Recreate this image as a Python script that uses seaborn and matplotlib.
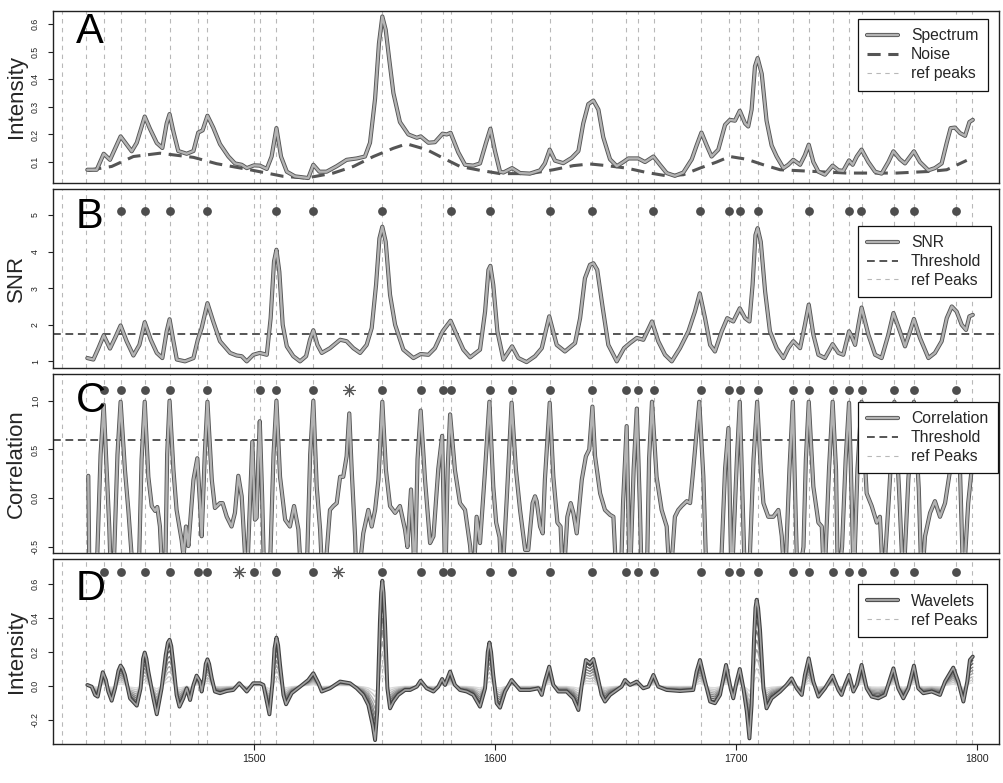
import matplotlib
matplotlib.use("Agg")
import matplotlib.pyplot as plt
import matplotlib.patheffects as pe
from matplotlib.lines import Line2D
import seaborn as sns

# ---------------- data ----------------
ref_peaks = [1420.7, 1430.4, 1437.9, 1444.9, 1454.9, 1465.3, 1477.1, 1480.8, 1500.2, 1502.6,
             1509.5, 1524.8, 1553.4, 1569.3, 1578.4, 1581.8, 1598.3, 1607.1, 1622.8, 1640.5,
             1654.4, 1659.4, 1666.0, 1685.7, 1697.3, 1701.6, 1709.0, 1723.8, 1730.2, 1740.1,
             1746.9, 1752.2, 1765.7, 1773.8, 1791.2, 1797.8]

# panel A: spectrum and noise
spec_mz = [1431.1, 1435.0, 1437.9, 1440.5, 1444.9, 1449.5, 1451.6, 1454.9, 1457.1, 1459.9,
           1462.2, 1464.0, 1465.2, 1466.8, 1468.8, 1472.3, 1475.1, 1477.1, 1478.9, 1480.9,
           1483.3, 1486.1, 1489.6, 1492.3, 1495.1, 1497.2, 1500.2, 1502.6, 1505.5, 1507.5,
           1509.5, 1511.4, 1513.8, 1517.2, 1522.7, 1524.8, 1527.3, 1530.3, 1534.5, 1538.6,
           1542.8, 1546.2, 1548.3, 1550.4, 1552.0, 1553.4, 1554.8, 1556.3, 1558.0, 1560.7,
           1564.2, 1567.7, 1569.3, 1572.5, 1575.2, 1578.4, 1580.1, 1581.7, 1584.9, 1587.7,
           1591.1, 1593.9, 1596.4, 1598.2, 1600.1, 1602.2, 1603.6, 1607.2, 1610.5, 1614.6,
           1618.8, 1620.8, 1622.8, 1625.0, 1628.4, 1631.9, 1634.7, 1636.7, 1638.8, 1640.9,
           1643.0, 1645.0, 1647.8, 1650.6, 1653.3, 1655.4, 1659.5, 1662.3, 1665.8, 1668.5,
           1671.3, 1674.7, 1678.2, 1681.7, 1683.7, 1685.7, 1687.9, 1689.9, 1692.7, 1695.5,
           1697.5, 1699.6, 1701.6, 1703.8, 1705.1, 1706.5, 1707.9, 1709.0, 1710.7, 1712.7,
           1714.8, 1716.9, 1719.7, 1721.7, 1723.8, 1726.6, 1728.6, 1730.2, 1732.1, 1734.2,
           1736.9, 1740.1, 1742.5, 1744.5, 1746.9, 1748.4, 1750.1, 1752.1, 1754.9, 1757.7,
           1760.4, 1763.2, 1765.3, 1768.0, 1770.1, 1772.2, 1773.8, 1776.3, 1779.8, 1782.5,
           1785.3, 1787.4, 1789.0, 1790.8, 1792.9, 1795.0, 1796.8, 1798.2]
spec_int = [0.072, 0.072, 0.130, 0.108, 0.193, 0.139, 0.17, 0.265, 0.22, 0.169,
            0.151, 0.24, 0.274, 0.21, 0.14, 0.13, 0.14, 0.207, 0.215, 0.268,
            0.225, 0.165, 0.12, 0.095, 0.09, 0.078, 0.088, 0.087, 0.075, 0.12,
            0.223, 0.12, 0.065, 0.048, 0.042, 0.09, 0.065, 0.065, 0.085, 0.108,
            0.113, 0.12, 0.17, 0.33, 0.53, 0.628, 0.58, 0.47, 0.35, 0.245,
            0.2, 0.188, 0.193, 0.17, 0.172, 0.203, 0.2, 0.206, 0.135, 0.09,
            0.087, 0.095, 0.17, 0.221, 0.14, 0.065, 0.062, 0.078, 0.06, 0.058,
            0.07, 0.095, 0.145, 0.105, 0.096, 0.115, 0.14, 0.24, 0.31, 0.323,
            0.29, 0.19, 0.11, 0.085, 0.1, 0.113, 0.113, 0.1, 0.12, 0.09,
            0.06, 0.05, 0.062, 0.11, 0.16, 0.207, 0.16, 0.12, 0.145, 0.235,
            0.253, 0.25, 0.286, 0.24, 0.229, 0.29, 0.447, 0.477, 0.42, 0.25,
            0.16, 0.12, 0.078, 0.09, 0.108, 0.09, 0.125, 0.163, 0.1, 0.065,
            0.054, 0.087, 0.07, 0.068, 0.106, 0.09, 0.12, 0.145, 0.1, 0.065,
            0.058, 0.1, 0.139, 0.11, 0.095, 0.12, 0.139, 0.1, 0.07, 0.078,
            0.095, 0.17, 0.223, 0.225, 0.205, 0.195, 0.245, 0.253]
noise_mz = [1431.5, 1441.2, 1450.2, 1461.2, 1475.1, 1484.7, 1498.5, 1512.4, 1522.0, 1533.1,
            1541.4, 1549.7, 1558.0, 1563.5, 1571.8, 1578.7, 1585.6, 1593.9, 1602.2, 1614.6,
            1624.3, 1632.6, 1639.5, 1646.4, 1654.7, 1663.0, 1671.3, 1678.2, 1685.1, 1692.0,
            1697.5, 1704.5, 1711.4, 1718.3, 1732.1, 1745.9, 1766.6, 1780.5, 1787.4, 1795.7]
noise_int = [0.07, 0.084, 0.12, 0.132, 0.117, 0.094, 0.072, 0.048, 0.042, 0.06,
             0.084, 0.12, 0.15, 0.166, 0.145, 0.114, 0.084, 0.07, 0.058, 0.058,
             0.072, 0.087, 0.093, 0.087, 0.078, 0.062, 0.05, 0.054, 0.078, 0.1,
             0.12, 0.11, 0.09, 0.072, 0.066, 0.06, 0.06, 0.066, 0.072, 0.106]

# panel B: signal to noise ratio
snr_mz = [1431.1, 1433.6, 1435.7, 1437.9, 1440.5, 1442.6, 1444.9, 1447.4, 1450.2, 1452.7,
          1454.9, 1457.4, 1459.9, 1462.2, 1464.0, 1465.2, 1466.8, 1468.2, 1471.6, 1475.1,
          1476.9, 1478.5, 1480.9, 1483.3, 1486.1, 1490.3, 1493.0, 1495.1, 1497.2, 1499.9,
          1502.6, 1505.5, 1507.1, 1508.5, 1509.5, 1510.7, 1512.1, 1513.8, 1516.5, 1519.3,
          1521.8, 1523.4, 1524.8, 1526.5, 1528.3, 1531.7, 1535.9, 1538.6, 1541.4, 1544.2,
          1546.9, 1549.0, 1550.8, 1552.2, 1553.4, 1554.8, 1556.6, 1558.7, 1562.1, 1566.3,
          1569.3, 1572.5, 1575.2, 1578.4, 1581.7, 1584.2, 1587.0, 1589.8, 1593.9, 1596.0,
          1597.4, 1598.2, 1599.4, 1601.1, 1603.6, 1607.2, 1609.8, 1613.2, 1616.7, 1619.5,
          1622.6, 1625.7, 1629.1, 1633.3, 1635.4, 1637.4, 1639.5, 1640.9, 1642.5, 1644.8,
          1647.1, 1650.6, 1653.6, 1656.1, 1658.9, 1661.6, 1665.2, 1667.8, 1670.6, 1673.4,
          1676.8, 1680.3, 1683.0, 1685.0, 1687.2, 1689.3, 1691.3, 1694.1, 1696.4, 1698.9,
          1701.6, 1703.8, 1705.6, 1706.9, 1708.1, 1709.0, 1710.3, 1712.1, 1714.1, 1716.9,
          1719.7, 1721.7, 1723.8, 1726.6, 1728.6, 1730.2, 1732.1, 1734.2, 1736.9, 1740.1,
          1742.5, 1744.5, 1746.9, 1748.0, 1749.4, 1750.8, 1752.1, 1754.9, 1757.7, 1760.4,
          1763.2, 1765.3, 1768.0, 1770.1, 1772.2, 1773.8, 1776.3, 1779.8, 1782.5, 1785.3,
          1787.4, 1789.5, 1791.5, 1793.6, 1795.4, 1796.8, 1798.2]
snr_val = [1.09, 1.05, 1.36, 1.71, 1.35, 1.64, 1.98, 1.55, 1.16, 1.45,
           2.07, 1.59, 1.23, 1.09, 1.82, 2.15, 1.55, 1.05, 1.0, 1.09,
           1.59, 1.91, 2.59, 2.09, 1.55, 1.23, 1.16, 1.14, 1.0, 1.18,
           1.23, 1.18, 2.18, 3.73, 4.05, 3.45, 2.0, 1.41, 1.14, 1.0,
           1.14, 1.59, 1.85, 1.45, 1.23, 1.36, 1.59, 1.55, 1.36, 1.23,
           1.45, 1.91, 3.09, 4.36, 4.68, 4.27, 2.82, 2.0, 1.32, 1.09,
           1.2, 1.18, 1.36, 1.82, 2.11, 1.73, 1.32, 1.11, 1.32, 2.36,
           3.5, 3.61, 3.09, 1.82, 1.05, 1.41, 1.09, 0.98, 1.14, 1.36,
           2.23, 1.45, 1.27, 1.5, 2.18, 3.27, 3.64, 3.68, 3.5, 2.45,
           1.45, 1.0, 1.36, 1.5, 1.64, 1.59, 2.09, 1.55, 1.18, 1.0,
           1.36, 1.82, 2.36, 2.86, 2.18, 1.45, 1.27, 1.82, 2.18, 2.09,
           2.45, 2.18, 2.09, 3.09, 4.45, 4.64, 4.27, 2.91, 1.82, 1.36,
           1.09, 1.36, 1.55, 1.36, 2.0, 2.55, 1.73, 1.18, 1.09, 1.47,
           1.23, 1.18, 1.82, 1.68, 1.45, 2.0, 2.47, 1.73, 1.18, 1.09,
           1.73, 2.32, 1.82, 1.41, 1.82, 2.16, 1.64, 1.09, 1.23, 1.55,
           2.18, 2.5, 2.36, 2.0, 1.86, 2.23, 2.27]
snr_threshold = 1.75
snr_peaks = [1444.9, 1454.9, 1465.2, 1480.9, 1509.5, 1524.8, 1553.4, 1581.8, 1598.2, 1622.8,
             1640.5, 1665.5, 1685.3, 1697.0, 1701.6, 1709.0, 1730.2, 1746.9, 1752.0, 1765.7,
             1773.8, 1791.2]

# panel C: correlation (values below the frame are clipped)
corr_points = [
    (1431.5, 0.23), (1432.0, -0.9), (1434.8, -0.9), (1436.6, 0.45), (1437.9, 0.96),
    (1439.1, 0.29), (1440.2, -0.3), (1441.0, -0.9), (1441.8, -0.9), (1443.6, 0.45),
    (1444.9, 0.99), (1446.7, 0.29), (1448.1, -0.12), (1449.5, -0.6), (1450.5, -0.9),
    (1452.3, -0.9), (1453.6, 0.4), (1454.9, 0.99), (1456.4, 0.22), (1457.8, -0.08),
    (1459.2, -0.13), (1460.1, -0.09), (1461.2, -0.29), (1462.4, -0.9), (1463.3, -0.9),
    (1464.2, 0.45), (1465.2, 1.0), (1466.8, 0.29), (1468.1, -0.12), (1470.2, -0.43),
    (1471.0, -0.6), (1472.0, -0.29), (1473.0, -0.49), (1475.1, 0.19), (1476.7, 0.41),
    (1477.8, -0.05), (1478.5, -0.39), (1479.8, 0.45), (1480.9, 0.99), (1482.7, 0.19),
    (1484.0, -0.10), (1486.1, -0.05), (1487.2, -0.05), (1488.9, -0.19), (1490.9, -0.29),
    (1492.3, -0.15), (1493.7, 0.23), (1495.1, 0.02), (1496.5, -0.6), (1497.2, -0.9),
    (1498.3, -0.2), (1499.5, 0.58), (1500.6, -0.22), (1501.3, -0.2), (1502.0, 0.4),
    (1502.6, 0.79), (1503.6, 0.0), (1504.5, -0.9), (1506.6, -0.9), (1508.3, 0.45),
    (1509.5, 1.0), (1511.0, 0.22), (1513.1, -0.22), (1515.1, -0.29), (1516.8, -0.08),
    (1518.6, -0.32), (1520.0, -0.9), (1521.9, -0.9), (1523.5, 0.45), (1524.8, 1.0),
    (1526.2, 0.12), (1527.6, -0.32), (1528.7, -0.9), (1530.2, -0.6), (1531.7, -0.12),
    (1533.1, -0.08), (1534.5, -0.05), (1535.9, 0.22), (1537.2, 0.22), (1538.6, 0.43),
    (1539.7, 0.87), (1540.7, 0.29), (1542.1, -0.39), (1542.8, -0.9), (1544.5, -0.6),
    (1545.5, -0.36), (1547.6, -0.12), (1549.0, -0.29), (1550.4, -0.12), (1551.8, 0.19),
    (1553.4, 0.99), (1554.9, 0.29), (1556.6, -0.08), (1558.7, -0.15), (1560.7, -0.08),
    (1562.8, -0.32), (1563.8, -0.5), (1565.3, 0.09), (1566.3, -0.5), (1566.8, -0.9),
    (1568.0, 0.4), (1569.3, 0.9), (1571.1, 0.19), (1573.2, -0.46), (1574.6, -0.39),
    (1576.6, 0.3), (1578.2, 0.64), (1579.5, -0.9), (1580.5, 0.3), (1581.5, 0.86),
    (1583.5, 0.29), (1585.6, -0.05), (1587.7, -0.12), (1589.8, -0.49), (1591.1, -0.9),
    (1592.5, -0.19), (1593.9, -0.46), (1596.0, 0.29), (1597.8, 0.99), (1599.4, 0.12),
    (1600.6, -0.25), (1602.0, -0.4), (1603.0, -0.9), (1605.0, 0.0), (1606.0, 0.5),
    (1607.0, 0.98), (1608.8, 0.29), (1610.5, -0.12), (1612.6, -0.53), (1613.9, -0.53),
    (1615.7, -0.05), (1616.7, 0.02), (1617.4, -0.03), (1618.8, -0.29), (1619.9, -0.36),
    (1620.8, 0.19), (1622.8, 0.98), (1624.3, 0.22), (1626.0, -0.25), (1627.3, -0.29),
    (1628.4, -0.9), (1630.1, -0.19), (1631.5, -0.05), (1632.6, -0.15), (1634.0, -0.36),
    (1636.1, 0.19), (1637.8, 0.43), (1639.2, 0.5), (1640.5, 0.94), (1641.6, 0.43),
    (1643.7, 0.05), (1645.7, -0.12), (1647.8, -0.17), (1649.2, -0.19), (1650.6, -0.9),
    (1652.2, -0.9), (1653.2, -0.05), (1654.7, 0.74), (1656.0, -0.9), (1657.6, 0.3),
    (1658.9, 0.92), (1660.2, -0.1), (1661.0, -0.9), (1663.0, -0.9), (1664.0, 0.4),
    (1665.2, 0.99), (1667.1, 0.22), (1669.2, -0.12), (1671.3, -0.29), (1672.7, -0.9),
    (1674.7, -0.19), (1676.1, -0.12), (1677.5, -0.08), (1679.6, -0.03), (1681.0, -0.05),
    (1682.3, 0.29), (1684.8, 0.99), (1686.5, 0.22), (1687.9, -0.9), (1693.5, -0.9),
    (1695.5, 0.3), (1696.9, 0.72), (1698.2, -0.9), (1700.4, 0.4), (1701.6, 0.99),
    (1703.1, -0.3), (1703.8, -0.9), (1705.3, -0.9), (1707.3, 0.4), (1708.8, 0.99),
    (1710.3, 0.3), (1711.4, -0.05), (1713.4, -0.19), (1715.5, -0.19), (1717.6, -0.12),
    (1719.0, -0.39), (1720.3, -0.9), (1722.2, 0.3), (1723.6, 0.99), (1724.9, -0.3),
    (1725.6, -0.9), (1728.0, -0.5), (1729.0, 0.4), (1730.2, 0.99), (1732.1, 0.12),
    (1734.2, -0.25), (1735.6, -0.29), (1736.6, -0.9), (1738.6, 0.3), (1740.1, 0.99),
    (1741.5, 0.29), (1742.3, -0.9), (1744.0, -0.5), (1745.5, 0.4), (1746.9, 0.98),
    (1748.2, -0.2), (1748.8, -0.9), (1750.4, 0.3), (1752.1, 0.99), (1754.2, 0.05),
    (1756.3, -0.08), (1758.4, -0.25), (1759.7, -0.19), (1761.1, -0.9), (1763.4, 0.0),
    (1765.7, 0.99), (1767.6, 0.1), (1769.4, -0.9), (1771.5, 0.2), (1773.8, 0.99),
    (1775.8, 0.1), (1777.0, -0.9), (1778.4, -0.39), (1780.5, -0.15), (1782.5, -0.03),
    (1784.6, -0.19), (1786.7, -0.05), (1788.8, 0.29), (1791.2, 0.99), (1792.9, 0.29),
    (1794.3, -0.9), (1796.3, -0.05), (1797.7, 0.29)]
corr_threshold = 0.6
corr_peaks = [1437.9, 1444.9, 1454.9, 1465.2, 1480.9, 1502.6, 1509.5, 1524.8, 1553.4, 1569.3,
              1578.4, 1581.8, 1598.2, 1607.1, 1622.8, 1640.5, 1654.4, 1659.4, 1666.0, 1685.7,
              1697.3, 1701.6, 1709.0, 1723.8, 1730.2, 1740.1, 1746.9, 1752.2, 1765.7, 1773.8,
              1791.2]
corr_extra = [1539.6]

# panel D: wavelet coefficients (largest scale) and relative scale amplitudes
wavelet_points = [
    (1431.1, 0.006), (1432.9, -0.004), (1434.3, -0.053), (1435.4, -0.063), (1436.4, 0.006),
    (1437.5, 0.081), (1438.8, 0.035), (1439.8, -0.033), (1441.2, -0.087), (1442.6, -0.014),
    (1444.0, 0.09), (1444.9, 0.12), (1445.8, 0.1), (1446.7, 0.065), (1448.8, -0.073),
    (1451.6, -0.116), (1453.2, -0.014), (1454.2, 0.16), (1454.9, 0.197), (1455.6, 0.16),
    (1456.4, 0.085), (1458.5, -0.073), (1459.9, -0.167), (1461.9, -0.014), (1463.6, 0.183),
    (1464.5, 0.255), (1465.2, 0.272), (1465.9, 0.235), (1466.8, 0.124), (1468.1, -0.053),
    (1469.3, -0.122), (1470.9, -0.073), (1472.3, -0.014), (1473.7, -0.083), (1475.1, 0.006),
    (1476.4, 0.061), (1477.8, 0.026), (1478.5, -0.033), (1479.5, 0.045), (1480.2, 0.13),
    (1480.9, 0.157), (1481.6, 0.13), (1482.7, 0.045), (1484.0, -0.033), (1486.1, -0.043),
    (1488.9, -0.03), (1491.6, -0.024), (1494.1, 0.016), (1497.2, -0.033), (1499.9, 0.016),
    (1502.7, 0.016), (1504.1, 0.006), (1505.5, -0.092), (1506.6, -0.167), (1507.9, 0.026),
    (1508.7, 0.22), (1509.5, 0.285), (1510.2, 0.24), (1511.0, 0.124), (1512.4, -0.053),
    (1513.5, -0.108), (1515.8, -0.043), (1519.3, -0.004), (1522.7, 0.035), (1524.8, 0.075),
    (1526.9, 0.016), (1528.3, -0.033), (1531.7, -0.014), (1535.9, 0.026), (1540.0, 0.016),
    (1542.8, -0.014), (1545.5, -0.053), (1547.6, -0.112), (1549.4, -0.23), (1550.4, -0.319),
    (1551.3, -0.151), (1552.4, 0.38), (1552.9, 0.55), (1553.4, 0.62), (1553.9, 0.55),
    (1554.5, 0.38), (1555.5, -0.014), (1556.6, -0.132), (1558.0, -0.092), (1560.0, -0.053),
    (1562.8, -0.024), (1564.9, -0.024), (1567.7, -0.004), (1569.3, 0.031), (1571.8, -0.014),
    (1574.6, -0.033), (1576.6, -0.004), (1578.2, 0.041), (1579.4, 0.006), (1581.5, 0.085),
    (1583.5, 0.006), (1585.6, -0.024), (1588.4, -0.033), (1591.1, -0.053), (1593.9, -0.122),
    (1596.0, -0.014), (1597.1, 0.2), (1597.8, 0.256), (1598.5, 0.2), (1599.4, 0.065),
    (1600.8, -0.102), (1602.2, -0.128), (1604.3, -0.033), (1607.0, 0.035), (1610.5, -0.024),
    (1614.6, -0.024), (1618.1, -0.014), (1619.5, -0.053), (1620.8, 0.026), (1622.6, 0.114),
    (1624.3, 0.006), (1626.4, -0.033), (1629.8, -0.033), (1632.6, -0.073), (1634.7, -0.142),
    (1636.1, 0.006), (1637.8, 0.153), (1639.5, 0.134), (1640.9, 0.159), (1642.5, 0.065),
    (1644.3, -0.053), (1645.7, -0.092), (1647.8, -0.053), (1650.6, -0.024), (1652.6, -0.004),
    (1654.0, 0.035), (1656.1, 0.006), (1658.9, 0.026), (1661.6, -0.014), (1663.7, -0.004),
    (1665.8, 0.065), (1667.8, -0.004), (1671.3, -0.024), (1676.8, -0.03), (1682.3, -0.024),
    (1683.7, 0.085), (1685.1, 0.153), (1687.2, 0.026), (1689.3, -0.092), (1691.3, -0.102),
    (1693.4, -0.053), (1695.9, 0.124), (1697.8, -0.014), (1698.9, -0.073), (1700.3, 0.026),
    (1701.6, 0.1), (1703.1, -0.014), (1704.5, -0.151), (1705.6, -0.309), (1706.5, -0.112),
    (1707.5, 0.281), (1708.1, 0.46), (1708.6, 0.508), (1709.2, 0.46), (1710.0, 0.33),
    (1711.4, -0.014), (1712.7, -0.132), (1714.8, -0.073), (1718.3, -0.033), (1721.0, 0.006),
    (1723.1, 0.045), (1725.2, -0.014), (1727.3, -0.053), (1728.6, 0.065), (1730.2, 0.163),
    (1732.1, 0.026), (1734.2, -0.063), (1736.9, -0.014), (1740.1, 0.061), (1742.5, -0.024),
    (1743.8, -0.053), (1745.2, 0.006), (1746.9, 0.065), (1748.7, -0.033), (1750.1, 0.006),
    (1752.1, 0.124), (1754.2, -0.014), (1756.3, -0.063), (1759.0, -0.073), (1761.8, -0.053),
    (1765.3, 0.104), (1767.3, -0.014), (1769.4, -0.073), (1771.5, -0.014), (1773.8, 0.12),
    (1775.6, -0.014), (1777.7, -0.043), (1781.2, -0.033), (1784.6, -0.053), (1786.7, 0.026),
    (1790.1, 0.108), (1792.2, 0.026), (1794.3, -0.092), (1795.9, 0.026), (1797.0, 0.153),
    (1798.2, 0.173)]
wavelet_scales = [1.0, 0.88, 0.76, 0.64, 0.53, 0.42, 0.31, 0.2, 0.1]
wav_peaks = [1437.9, 1444.9, 1454.9, 1465.2, 1477.1, 1480.9, 1500.2, 1509.5, 1524.8, 1553.4,
             1569.3, 1578.4, 1581.8, 1598.2, 1607.1, 1622.8, 1640.5, 1654.4, 1659.4, 1666.0,
             1685.7, 1697.3, 1701.6, 1709.0, 1723.8, 1730.2, 1740.1, 1746.9, 1752.2, 1765.7,
             1773.8, 1791.2]
wav_extra = [1494.1, 1535.2]

x_ticks = [1500, 1600, 1700, 1800]
x_tick_labels = ["1500", "1600", "1700", "1800"]
a_ticks = [0.1, 0.2, 0.3, 0.4, 0.5, 0.6]
a_tick_labels = ["0.1", "0.2", "0.3", "0.4", "0.5", "0.6"]
b_ticks = [1, 2, 3, 4, 5]
b_tick_labels = ["1", "2", "3", "4", "5"]
c_ticks = [-0.5, 0.0, 0.5, 1.0]
c_tick_labels = ["-0.5", "0.0", "0.5", "1.0"]
d_ticks = [-0.2, 0.0, 0.2, 0.4, 0.6]
d_tick_labels = ["-0.2", "0.0", "0.2", "0.4", "0.6"]

# ---------------- style ----------------
sns.set_theme(style="ticks")
plt.rcParams['font.family'] = ['Liberation Sans', 'DejaVu Sans']

OUTER = '#555555'
INNER = '#b3b3b3'
REF = '#b8b8b8'
DASH = '#555555'
DOT = '#4d4d4d'
XLIM = (1417.0, 1809.1)
DOUBLE = [pe.Stroke(linewidth=3.0, foreground=OUTER), pe.Normal()]
REF_LS = (0, (4, 4))
THR_LS = (0, (4, 2.4))
NOISE_LS = (0, (4.3, 2.5))

fig = plt.figure(figsize=(10.04, 7.83), dpi=100)
axA = fig.add_axes([0.0531, 0.7663, 0.942, 0.2197])
axB = fig.add_axes([0.0531, 0.5300, 0.942, 0.2286])
axC = fig.add_axes([0.0531, 0.2937, 0.942, 0.2286])
axD = fig.add_axes([0.0531, 0.0498, 0.942, 0.2363])


def setup(ax, ylim, ticks, labels, ylabel, letter, letter_y):
    ax.set_xlim(XLIM)
    ax.set_ylim(ylim)
    ax.set_yticks(ticks)
    ax.set_yticklabels(labels, rotation=90, va='center')
    ax.tick_params(axis='y', labelsize=6.3, length=3.6, width=0.8, pad=6,
                   colors='#222222')
    ax.set_xticks([])
    for s in ax.spines.values():
        s.set_linewidth(1.0)
        s.set_color('#222222')
    for m in ref_peaks:
        ax.axvline(m, color=REF, lw=0.8, ls=REF_LS, zorder=1)
    ax.set_ylabel(ylabel, fontsize=16)
    ax.yaxis.set_label_coords(-0.0278, 0.5)
    ax.text(0.0235, letter_y, letter, transform=ax.transAxes, fontsize=30,
            va='baseline', ha='left', color='black', zorder=6)


def add_legend(ax, handles, labels, top):
    leg = ax.legend(handles, labels, loc='upper left', bbox_to_anchor=(0.8505, top),
                    borderaxespad=0, frameon=True, fancybox=False, framealpha=1,
                    edgecolor='#111111', fontsize=11.3, handlelength=2.0,
                    handletextpad=0.8, labelspacing=0.25, borderpad=0.6)
    leg.get_frame().set_linewidth(0.9)
    leg.set_zorder(10)


def curve(ax, x, y, **kw):
    sns.lineplot(x=x, y=y, ax=ax, estimator=None, sort=False, legend=False, **kw)


ref_handle = Line2D([], [], color=REF, lw=0.8, ls=REF_LS)
thr_handle = Line2D([], [], color=DASH, lw=1.4, ls=THR_LS)


def double_handle():
    return Line2D([], [], color=INNER, lw=1.7, path_effects=DOUBLE)


# ---------------- A: spectrum ----------------
setup(axA, (0.024, 0.648), a_ticks, a_tick_labels, "Intensity", "A", 0.814)
curve(axA, noise_mz, noise_int, color=DASH, lw=2.2, ls=NOISE_LS, zorder=2)
curve(axA, spec_mz, spec_int, color=INNER, lw=1.7, path_effects=DOUBLE, zorder=3)
add_legend(axA, [double_handle(), Line2D([], [], color=DASH, lw=2.2, ls=NOISE_LS), ref_handle],
           ["Spectrum", "Noise", "ref peaks"], 0.953)

# ---------------- B: SNR ----------------
setup(axB, (0.818, 5.71), b_ticks, b_tick_labels, "SNR", "B", 0.782)
axB.axhline(snr_threshold, color=DASH, lw=1.4, ls=THR_LS, zorder=2)
curve(axB, snr_mz, snr_val, color=INNER, lw=1.7, path_effects=DOUBLE, zorder=3)
sns.scatterplot(x=snr_peaks, y=[5.12] * len(snr_peaks), ax=axB, color=DOT, s=40,
                linewidth=0, zorder=4, legend=False)
add_legend(axB, [double_handle(), thr_handle, ref_handle],
           ["SNR", "Threshold", "ref Peaks"], 0.795)

# ---------------- C: correlation ----------------
setup(axC, (-0.562, 1.274), c_ticks, c_tick_labels, "Correlation", "C", 0.788)
axC.axhline(corr_threshold, color=DASH, lw=1.4, ls=THR_LS, zorder=2)
curve(axC, [p[0] for p in corr_points], [p[1] for p in corr_points],
      color=INNER, lw=1.7, path_effects=DOUBLE, zorder=3)
sns.scatterplot(x=corr_peaks, y=[1.113] * len(corr_peaks), ax=axC, color=DOT, s=40,
                linewidth=0, zorder=4, legend=False)
sns.scatterplot(x=corr_extra, y=[1.113] * len(corr_extra), ax=axC, color='#555555',
                marker=(8, 2, 0), s=70, linewidth=0.8, zorder=4, legend=False)
add_legend(axC, [double_handle(), thr_handle, ref_handle],
           ["Correlation", "Threshold", "ref Peaks"], 0.845)

# ---------------- D: wavelets ----------------
setup(axD, (-0.342, 0.748), d_ticks, d_tick_labels, "Intensity", "D", 0.778)
wav_mz = [p[0] for p in wavelet_points]
wav_val = [p[1] for p in wavelet_points]
greys = sns.color_palette("Greys", len(wavelet_scales) + 3)[::-1]
for i in range(len(wavelet_scales) - 1, 0, -1):
    sc = wavelet_scales[i]
    curve(axD, wav_mz, [v * sc for v in wav_val], color=greys[i + 1], lw=1.0, zorder=2)
curve(axD, wav_mz, wav_val, color='#a0a0a0', lw=1.2, path_effects=[
    pe.Stroke(linewidth=2.8, foreground='#3f3f3f'), pe.Normal()], zorder=3)
sns.scatterplot(x=wav_peaks, y=[0.671] * len(wav_peaks), ax=axD, color=DOT, s=40,
                linewidth=0, zorder=4, legend=False)
sns.scatterplot(x=wav_extra, y=[0.671] * len(wav_extra), ax=axD, color='#555555',
                marker=(8, 2, 0), s=70, linewidth=0.8, zorder=4, legend=False)
add_legend(axD, [Line2D([], [], color='#a0a0a0', lw=1.7, path_effects=[
    pe.Stroke(linewidth=3.0, foreground='#3f3f3f'), pe.Normal()]), ref_handle],
    ["Wavelets", "ref Peaks"], 0.863)

axD.set_xticks(x_ticks)
axD.set_xticklabels(x_tick_labels)
axD.tick_params(axis='x', labelsize=7.7, length=4.3, width=0.8, pad=3, colors='#222222')
axD.set_xlabel("m/z", fontsize=16)
axD.xaxis.label.set_va('baseline')
axD.xaxis.set_label_coords(0.5, -0.195)

fig.savefig("out.png", dpi=100)
